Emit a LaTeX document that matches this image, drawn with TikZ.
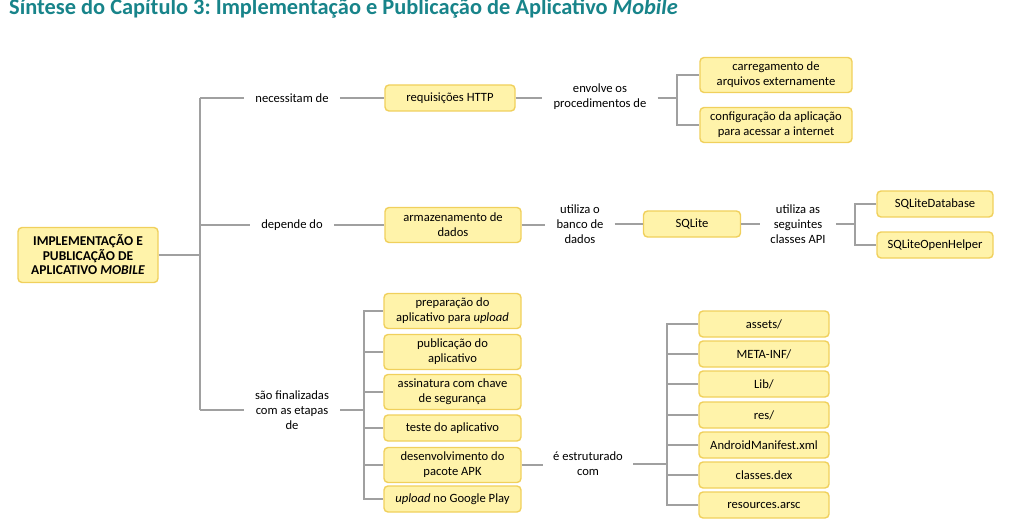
\documentclass[tikz,border=0pt]{standalone}
\usepackage{fontspec}
\setmainfont{Carlito}
\frenchspacing
\definecolor{titlecol}{RGB}{24,132,138}
\definecolor{boxfill}{RGB}{255,243,170}
\definecolor{boxline}{RGB}{240,208,92}
\definecolor{linkcol}{RGB}{160,160,160}
\begin{document}
\begin{tikzpicture}[x=1pt,y=-1pt,
    font=\fontsize{12.6}{14.8}\selectfont,
    box/.style={draw=boxline,fill=boxfill,line width=1.4pt,rounded corners=4pt,
      align=center,minimum height=26pt,inner sep=0pt},
    tallbox/.style={box,minimum height=35pt},
    link/.style={align=center,inner xsep=11pt,inner ysep=0pt},
    wire/.style={draw=linkcol,line width=1.1pt}]
  \useasboundingbox (0,0) rectangle (1029,524);
  \node[anchor=base west,inner sep=0pt,text=titlecol,font=\fontsize{22.4}{24}\selectfont\bfseries] (title) at (9,15)
    {Síntese do Capítulo 3: Implementação e Publicação de Aplicativo \textit{Mobile}};
  \node[box,minimum width=140pt,minimum height=55pt,font=\fontsize{13.5}{14.5}\selectfont\bfseries] (root) at (88,255)
    {IMPLEMENTAÇÃO E\\PUBLICAÇÃO DE\\APLICATIVO \textit{MOBILE}};
  \coordinate (t1) at (200,98);
  \coordinate (t2) at (200,225);
  \coordinate (t3) at (200,410);
  \node[link] (necessitam) at (292,98) {necessitam de};
  \node[box,minimum width=130pt] (http) at (450,98) {requisições HTTP};
  \node[link] (envolve) at (600,97) {envolve os\\procedimentos de};
  \coordinate (b1) at (677,98);
  \node[tallbox,minimum width=152pt] (carreg) at (776,75) {carregamento de\\arquivos externamente};
  \node[tallbox,minimum width=152pt] (config) at (776,125) {configuração da aplicação\\para acessar a internet};
  \node[link] (depende) at (292,225) {depende do};
  \node[tallbox,minimum width=136pt] (armaz) at (453,225) {armazenamento de\\dados};
  \node[link] (utiliza) at (580,224) {utiliza o\\banco de\\dados};
  \node[box,minimum width=97pt] (sqlite) at (692,224) {SQLite};
  \node[link,inner xsep=10pt] (classes) at (798,224) {utiliza as\\seguintes\\classes API};
  \coordinate (b2) at (855,224);
  \node[box,minimum width=116pt] (sqldb) at (935,204) {SQLiteDatabase};
  \node[box,minimum width=116pt] (sqlhelper) at (935,245) {SQLiteOpenHelper};
  \node[link] (etapas) at (292,410) {são finalizadas\\com as etapas\\de};
  \coordinate (b3) at (364,410);
  \node[tallbox,minimum width=137pt] (prep) at (452.5,311) {preparação do\\aplicativo para \textit{upload}};
  \node[tallbox,minimum width=137pt] (publ) at (452.5,352) {publicação do\\aplicativo};
  \node[tallbox,minimum width=137pt] (assin) at (452.5,392) {assinatura com chave\\de segurança};
  \node[box,minimum width=137pt] (teste) at (452.5,428) {teste do aplicativo};
  \node[tallbox,minimum width=137pt] (apk) at (452.5,465) {desenvolvimento do\\pacote APK};
  \node[box,minimum width=137pt] (gplay) at (452.5,499) {\textit{upload} no Google Play};
  \node[link,inner xsep=10pt] (estrut) at (588,464) {é estruturado\\com};
  \coordinate (b4) at (667,464);
  \node[box,minimum width=130pt] (assets) at (764,324) {assets/};
  \node[box,minimum width=130pt] (meta) at (764,354) {META-INF/};
  \node[box,minimum width=130pt] (lib) at (764,384) {Lib/};
  \node[box,minimum width=130pt] (res) at (764,415) {res/};
  \node[box,minimum width=130pt] (manif) at (764,445) {AndroidManifest.xml};
  \node[box,minimum width=130pt] (dex) at (764,475) {classes.dex};
  \node[box,minimum width=130pt] (arsc) at (764,505) {resources.arsc};
  \begin{scope}[wire]
    \draw (root.east) -- (root.east -| t1);
    \draw (t1) -- (t3);
    \draw (t1) -- (necessitam.west |- t1);
    \draw (t2) -- (depende.west |- t2);
    \draw (t3) -- (etapas.west |- t3);
    \draw (necessitam) -- (http);
    \draw (http) -- (envolve.west |- http);
    \draw (envolve.east |- b1) -- (b1);
    \draw (b1) |- (carreg.west);
    \draw (b1) |- (config.west);
    \draw (depende.east |- armaz) -- (armaz);
    \draw (armaz) -- (utiliza.west |- armaz);
    \draw (utiliza) -- (sqlite);
    \draw (sqlite) -- (classes);
    \draw (classes) -- (b2);
    \draw (b2) |- (sqldb.west);
    \draw (b2) |- (sqlhelper.west);
    \draw (etapas.east |- b3) -- (b3);
    \draw (b3) |- (prep.west);
    \draw (b3) |- (publ.west);
    \draw (b3) |- (assin.west);
    \draw (b3) |- (teste.west);
    \draw (b3) |- (apk.west);
    \draw (b3) |- (gplay.west);
    \draw (apk.east) -- (estrut.west |- apk.east);
    \draw (estrut.east |- b4) -- (b4);
    \draw (b4) |- (assets.west);
    \draw (b4) |- (meta.west);
    \draw (b4) |- (lib.west);
    \draw (b4) |- (res.west);
    \draw (b4) |- (manif.west);
    \draw (b4) |- (dex.west);
    \draw (b4) |- (arsc.west);
  \end{scope}
\end{tikzpicture}
\end{document}
